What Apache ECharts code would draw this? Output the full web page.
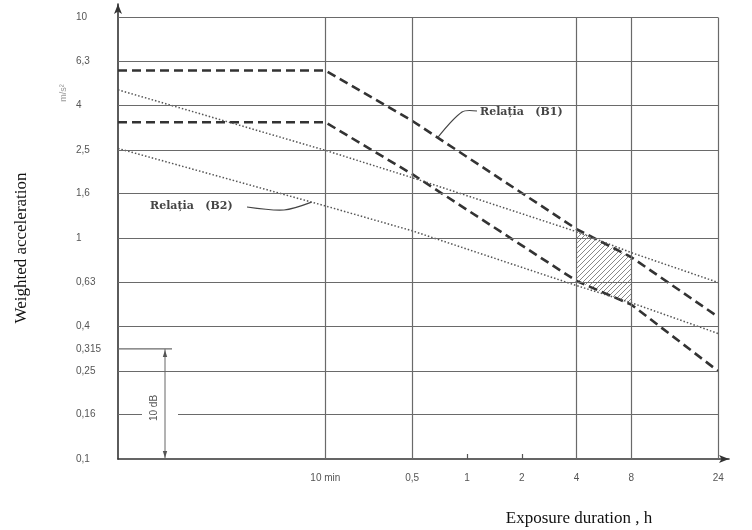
<!DOCTYPE html>
<html><head><meta charset="utf-8">
<script src="https://cdn.jsdelivr.net/npm/echarts@6/dist/echarts.min.js"></script>
<style>html,body{margin:0;padding:0;background:#fff}#c{width:752px;height:530px}</style>
</head><body><div id="c"></div>
<script>
// ---- data ----
const xTickValues = [1/6, 0.5, 1, 2, 4, 8, 24];          // hours
const xTickLabels = ['10 min', '0,5', '1', '2', '4', '8', '24'];
const xGridValues = [1/6, 0.5, 4, 8, 24];
const xMinorTicks = [1, 2];
const yTickValues = [0.1, 0.16, 0.25, 0.315, 0.4, 0.63, 1, 1.6, 2.5, 4, 6.3, 10];
const yTickLabels = ['0,1', '0,16', '0,25', '0,315', '0,4', '0,63', '1', '1,6', '2,5', '4', '6,3', '10'];
const yGridValues = [0.16, 0.25, 0.4, 0.63, 1, 1.6, 2.5, 4, 6.3, 10];
const X_MIN = 0.0121, X_MAX = 27.5, Y_MIN = 0.1, Y_MAX = 11.5;
const durations = [0.0121, 1/6, 0.5, 4, 8, 24];
const b1Upper = [5.75, 5.75, 3.4, 1.1, 0.82, 0.44];
const b1Lower = [3.35, 3.35, 1.95, 0.64, 0.5, 0.25];
const b2Upper = [4.7, 2.5, 1.88, 1.07, 0.86, 0.63];
const b2Lower = [2.55, 1.4, 1.08, 0.61, 0.51, 0.37];
const hatchDurations = [4, 8];
const hatchTop = [1.1, 0.82];
const hatchBottom = [0.64, 0.5];
const B1_ANCHOR_H = 0.69, B2_ANCHOR_H = 0.14;

// ---- build ----
function lookup(vals, labels, v) {
  const i = vals.findIndex(t => Math.abs(t - v) / t < 1e-3);
  return i >= 0 ? labels[i] : '';
}
function pairs(xs, ys) { return xs.map((x, i) => [x, ys[i]]); }
function makeHatch() {
  const c = document.createElement('canvas'); c.width = c.height = 5;
  const g = c.getContext('2d'); g.strokeStyle = '#7a7a7a'; g.lineWidth = 0.9;
  g.beginPath(); g.moveTo(0, 5); g.lineTo(5, 0); g.moveTo(-1, 1); g.lineTo(1, -1); g.moveTo(4, 6); g.lineTo(6, 4); g.stroke();
  return c;
}
const hatchCanvas = makeHatch();
const gridColor = '#6a6a6a';
const gridLines = [];
yGridValues.forEach(v => gridLines.push([{coord: [X_MIN, v]}, {coord: [xGridValues[xGridValues.length - 1], v]}]));
xGridValues.forEach(x => gridLines.push([{coord: [x, Y_MIN]}, {coord: [x, yGridValues[yGridValues.length - 1]]}]));

const dashed = {type: [9, 5], width: 2.6, color: '#333'};
const dotted = {type: [1.5, 2], width: 1.5, color: '#555'};
function lineSeries(name, ys, style) {
  return {type: 'line', name, data: pairs(durations, ys), showSymbol: false, symbol: 'none',
    lineStyle: style, z: 3, silent: true};
}

const chart = echarts.init(document.getElementById('c'), null, {renderer: 'canvas'});
const option = {
  animation: false,
  backgroundColor: '#fff',
  grid: {left: 118, right: 23, top: 4, bottom: 71, containLabel: false},
  xAxis: {
    type: 'log', min: X_MIN, max: X_MAX, logBase: 10,
    axisLine: {show: true, symbol: ['none', 'arrow'], symbolSize: [6, 10], lineStyle: {color: '#333', width: 1.6}},
    axisTick: {show: true, inside: true, length: 5, customValues: xMinorTicks, lineStyle: {color: '#555', width: 1.2}},
    axisLabel: {show: true, customValues: xTickValues, margin: 14, color: '#555', fontSize: 10, fontFamily: 'Liberation Sans',
      formatter: v => lookup(xTickValues, xTickLabels, v)},
    splitLine: {show: false}, minorTick: {show: false}
  },
  yAxis: {
    type: 'log', min: Y_MIN, max: Y_MAX, logBase: 10,
    axisLine: {show: true, symbol: ['none', 'arrow'], symbolSize: [6, 10], lineStyle: {color: '#333', width: 1.6}},
    axisTick: {show: false},
    axisLabel: {show: true, customValues: yTickValues, align: 'left', margin: 42, color: '#555', fontSize: 10, fontFamily: 'Liberation Sans',
      formatter: v => lookup(yTickValues, yTickLabels, v)},
    splitLine: {show: false}
  },
  series: [
    {type: 'line', name: 'grid', data: [], z: 1, silent: true,
      markLine: {silent: true, symbol: ['none', 'none'], label: {show: false}, animation: false,
        lineStyle: {type: 'solid', color: gridColor, width: 1.2}, data: gridLines}},
    {type: 'custom', name: 'hatch', coordinateSystem: 'cartesian2d', z: 2, silent: true,
      data: pairs(hatchDurations, hatchTop).slice(0, 1),
      renderItem: (params, api) => {
        const pts = [];
        hatchDurations.forEach((d, i) => pts.push(api.coord([d, hatchTop[i]])));
        for (let i = hatchDurations.length - 1; i >= 0; i--) pts.push(api.coord([hatchDurations[i], hatchBottom[i]]));
        return {type: 'polygon', shape: {points: pts}, style: {fill: {image: hatchCanvas, repeat: 'repeat'}, stroke: null}};
      }},
    lineSeries('B1 upper', b1Upper, dashed),
    lineSeries('B1 lower', b1Lower, dashed),
    lineSeries('B2 upper', b2Upper, dotted),
    lineSeries('B2 lower', b2Lower, dotted)
  ]
};
chart.setOption(option);

// ---- annotations (positioned via the chart's scales) ----
const P = (x, y) => chart.convertToPixel({gridIndex: 0}, [x, y]);
function onLine(xs, ys, d) {
  let i = 0; while (i < xs.length - 2 && xs[i + 1] < d) i++;
  const a = P(xs[i], ys[i]), b = P(xs[i + 1], ys[i + 1]);
  const px = P(d, 1)[0]; const t = (px - a[0]) / (b[0] - a[0]);
  return [px, a[1] + t * (b[1] - a[1])];
}
const xLeft = P(X_MIN, 1)[0];
const y315 = P(X_MIN, 0.315)[1];
const y016 = P(X_MIN, 0.16)[1];
const yBottom = P(X_MIN, Y_MIN)[1];
const b1A = onLine(durations, b1Upper, B1_ANCHOR_H);
const b2A = onLine(durations, b2Lower, B2_ANCHOR_H);
const annoFont = 'bold 11px "DejaVu Serif"';
const serif = '17px "Liberation Serif"';
const ax = 165;
function txt(text, x, y, font, fill, rot, align) {
  return {type: 'text', x, y, rotation: rot || 0, z: 50,
    style: {text, x: 0, y: 0, font, fill, align: align || 'center', verticalAlign: 'middle',
      textAlign: align || 'center', textVerticalAlign: 'middle'}};
}
chart.setOption({
  graphic: {elements: [
    {type: 'rect', z: 40, shape: {x: 142, y: y016 - 2, width: 36, height: 4}, style: {fill: '#fff'}},
    {type: 'line', z: 45, shape: {x1: xLeft, y1: y315, x2: 172, y2: y315}, style: {stroke: gridColor, lineWidth: 1.2}},
    {type: 'line', z: 45, shape: {x1: ax, y1: y315, x2: ax, y2: yBottom}, style: {stroke: '#666', lineWidth: 1}},
    {type: 'polygon', z: 45, shape: {points: [[ax, y315 + 1], [ax - 2.2, y315 + 8], [ax + 2.2, y315 + 8]]}, style: {fill: '#555'}},
    {type: 'polygon', z: 45, shape: {points: [[ax, yBottom - 1], [ax - 2.2, yBottom - 8], [ax + 2.2, yBottom - 8]]}, style: {fill: '#555'}},
    txt('10 dB', 154, (y315 + yBottom) / 2 + 4, '10px "Liberation Sans"', '#555', Math.PI / 2),
    txt('Relația   (B1)', 480, 112, annoFont, '#444', 0, 'left'),
    {type: 'polyline', z: 45, shape: {points: [[477, 111], [462, 112], b1A], smooth: 0.3}, style: {stroke: '#444', lineWidth: 1.2, fill: null}},
    txt('Relația   (B2)', 150, 206, annoFont, '#444', 0, 'left'),
    {type: 'polyline', z: 45, shape: {points: [[247, 207], [284, 210], b2A], smooth: 0.3}, style: {stroke: '#444', lineWidth: 1.2, fill: null}},
    txt('Weighted acceleration', 22, 248, serif, '#111', Math.PI / 2),
    txt('Exposure duration , h', 579, 519, serif, '#111', 0),
    txt('m/s²', 64, 93, '9px "Liberation Sans"', '#999', Math.PI / 2)
  ]}
});
</script></body></html>
